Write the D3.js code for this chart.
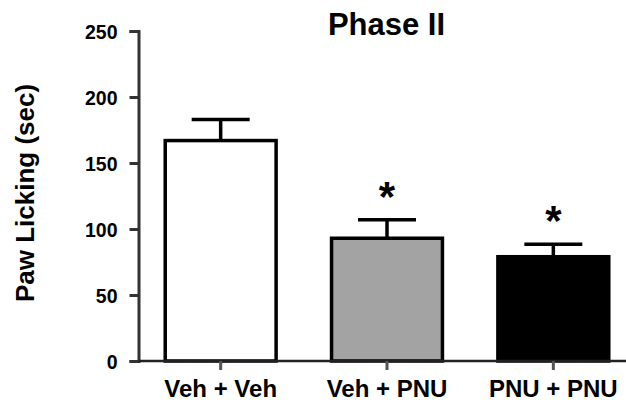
<!DOCTYPE html>
<html>
<head>
<meta charset="utf-8">
<script src="https://cdn.jsdelivr.net/npm/d3@7"></script>
<style>
  html, body { margin: 0; padding: 0; background: #fff; }
  svg { display: block; }
  text { font-family: "Liberation Sans", Arial, Helvetica, sans-serif; font-weight: bold; fill: #000; }
</style>
</head>
<body>
<svg id="chart" width="626" height="405"></svg>
<script>
// Paw licking time during phase II of the formalin test
const categories = ["Veh + Veh", "Veh + PNU", "PNU + PNU"];
const means = [167, 93, 79];
const sem = [16, 14, 9.5];
const significant = [false, true, true];
const fills = ["#ffffff", "#a3a3a3", "#000000"];
const yTicks = [0, 50, 100, 150, 200, 250];

const svg = d3.select("#chart");

const x = d3.scaleBand()
  .domain(categories)
  .range([137.5, 636.5])
  .paddingInner(1 / 3)
  .paddingOuter(1 / 6);

const y = d3.scaleLinear()
  .domain([0, 250])
  .range([361, 31]);

// Bars
svg.append("g")
  .selectAll("rect")
  .data(categories)
  .join("rect")
  .attr("x", d => x(d))
  .attr("y", (d, i) => y(means[i]))
  .attr("width", x.bandwidth())
  .attr("height", (d, i) => y(0) - y(means[i]))
  .attr("fill", (d, i) => fills[i])
  .attr("stroke", "#000")
  .attr("stroke-width", 3.5);

// Error bars (upper SEM only)
const capHalf = 29;
const err = svg.append("g").attr("stroke", "#000").attr("stroke-width", 3.5);
categories.forEach((c, i) => {
  const cx = x(c) + x.bandwidth() / 2;
  err.append("line")
    .attr("x1", cx).attr("x2", cx)
    .attr("y1", y(means[i])).attr("y2", y(means[i] + sem[i]));
  err.append("line")
    .attr("x1", cx - capHalf).attr("x2", cx + capHalf)
    .attr("y1", y(means[i] + sem[i])).attr("y2", y(means[i] + sem[i]));
});

// Significance markers
svg.append("g")
  .selectAll("text")
  .data(categories.filter((c, i) => significant[i]))
  .join("text")
  .attr("x", c => x(c) + x.bandwidth() / 2)
  .attr("y", c => {
    const i = categories.indexOf(c);
    return y(means[i] + sem[i]) - 30 + 21;
  })
  .attr("text-anchor", "middle")
  .style("font-size", "42px")
  .text("*");

// Y axis
const yAxis = svg.append("g")
  .attr("transform", "translate(138.5,0)")
  .call(d3.axisLeft(y).tickValues(yTicks).tickSize(9).tickPadding(12));
yAxis.select(".domain").attr("stroke", "#333").attr("stroke-width", 3);
yAxis.selectAll(".tick line").attr("stroke", "#333").attr("stroke-width", 3);
yAxis.selectAll(".tick text").style("font-size", "19.5px").attr("dy", "0.36em");

// X axis
const xAxis = svg.append("g")
  .attr("transform", "translate(0,361)")
  .call(d3.axisBottom(x).tickSize(9).tickPadding(10));
xAxis.select(".domain")
  .attr("d", "M138.5,0H636.5")
  .attr("stroke", "#222").attr("stroke-width", 2.5);
xAxis.selectAll(".tick line").attr("stroke", "#555").attr("stroke-width", 3);
xAxis.selectAll(".tick text").style("font-size", "24px").attr("dy", "0.69em");

// Axis title
svg.append("text")
  .attr("transform", "translate(34,193) rotate(-90)")
  .attr("text-anchor", "middle")
  .style("font-size", "26px")
  .text("Paw Licking (sec)");

// Chart title
svg.append("text")
  .attr("x", 386.5)
  .attr("y", 35)
  .attr("text-anchor", "middle")
  .style("font-size", "31px")
  .text("Phase II");
</script>
</body>
</html>
